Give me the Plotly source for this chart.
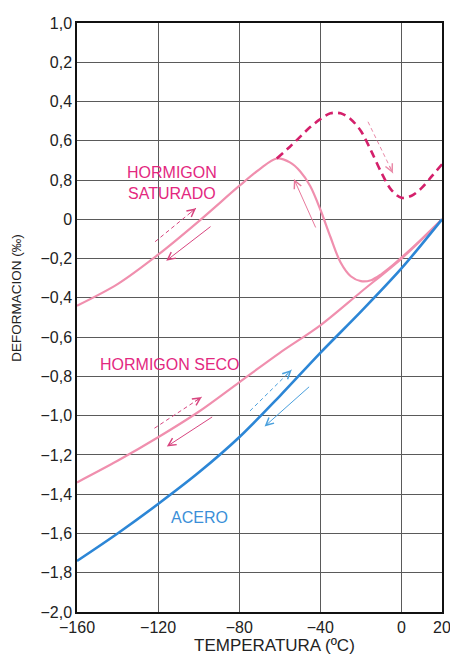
import plotly.graph_objects as go

# ---------------- data ----------------
temp_acero = [-160, -140, -120, -100, -80, -60, -40, -20, 0, 20]
def_acero = [-1.74, -1.60, -1.45, -1.29, -1.11, -0.90, -0.68, -0.47, -0.25, 0.0]

temp_seco = [-160, -140, -120, -100, -80, -60, -40, -20, 0, 20]
def_seco = [-1.34, -1.23, -1.11, -0.98, -0.83, -0.68, -0.54, -0.37, -0.20, 0.0]

temp_saturado = [-160, -140, -120, -100, -80, -70, -61.5, -55, -50, -45, -40, -35,
                 -30, -25, -20, -15, -10, -5, 0, 10, 20]
def_saturado = [-0.44, -0.33, -0.18, -0.01, 0.17, 0.255, 0.31, 0.29, 0.245, 0.17, 0.05, -0.09,
                -0.22, -0.29, -0.315, -0.31, -0.28, -0.24, -0.195, -0.10, 0.0]

temp_saturado_b = [-61.5, -55, -50, -45, -40, -35, -30, -25, -20, -15, -10, -5, 0, 5, 10, 15, 20]
def_saturado_b = [0.31, 0.37, 0.42, 0.47, 0.51, 0.54, 0.54, 0.51, 0.45, 0.35, 0.24, 0.15, 0.11,
                  0.12, 0.16, 0.22, 0.28]

x_ticks = [-160, -120, -80, -40, 0, 20]
x_ticktext = ["\u2212160", "\u2212120", "\u221280", "\u221240", "0", "20"]
y_ticks = [1.0, 0.8, 0.6, 0.4, 0.2, 0.0, -0.2, -0.4, -0.6, -0.8, -1.0,
           -1.2, -1.4, -1.6, -1.8, -2.0]
y_ticktext = ["1,0", "0,2", "0,4", "0,6", "0,8", "0", "\u22120,2", "\u22120,4", "\u22120,6",
              "\u22120,8", "\u22121,0", "\u22121,2", "\u22121,4", "\u22121,6", "\u22121,8", "\u22122,0"]

# arrows: tail x, tail y, head x, head y
arrow_tail_x = [-121.5, -93.9, -42.2, -16.5, -121.8, -93.1, -74.7, -45.3]
arrow_tail_y = [-0.114, -0.035, -0.044, 0.497, -1.064, -1.005, -0.976, -0.851]
arrow_head_x = [-101.3, -116.0, -53.0, -4.2, -98.5, -115.7, -54.2, -67.5]
arrow_head_y = [0.057, -0.211, 0.205, 0.235, -0.905, -1.157, -0.767, -1.055]
arrow_dashed = [True, False, False, True, True, False, True, False]
arrow_color = ["#d8457f", "#d8457f", "#e8799c", "#e98aa8", "#d8457f", "#d8457f", "#4aa0dd", "#4aa0dd"]

labels = ["HORMIGON<br>SATURADO", "HORMIGON SECO", "ACERO"]
label_x = [-113.1, -113.9, -99.6]
label_y = [0.185, -0.740, -1.519]
label_color = ["#e3287f", "#e3287f", "#3b8fd8"]

FONT = "Liberation Sans, Arial, sans-serif"
PINK = "#f08fae"
MAGENTA = "#d4206b"
BLUE = "#2c86d6"

fig = go.Figure()

fig.add_trace(go.Scatter(x=temp_saturado, y=def_saturado, mode="lines",
                         line=dict(color=PINK, width=2.2, shape="spline", smoothing=0.9),
                         hoverinfo="skip", showlegend=False))
fig.add_trace(go.Scatter(x=temp_saturado_b, y=def_saturado_b, mode="lines",
                         line=dict(color=MAGENTA, width=2.6, dash="8px,5px", shape="spline", smoothing=0.9),
                         hoverinfo="skip", showlegend=False))
fig.add_trace(go.Scatter(x=temp_seco, y=def_seco, mode="lines",
                         line=dict(color=PINK, width=2.2, shape="spline", smoothing=0.9),
                         hoverinfo="skip", showlegend=False))
fig.add_trace(go.Scatter(x=temp_acero, y=def_acero, mode="lines",
                         line=dict(color=BLUE, width=2.6, shape="spline", smoothing=0.9),
                         hoverinfo="skip", showlegend=False))

annotations = []
shapes = []
for tx, ty, hx, hy, dashed, col in zip(arrow_tail_x, arrow_tail_y, arrow_head_x,
                                       arrow_head_y, arrow_dashed, arrow_color):
    if dashed:
        shapes.append(dict(type="line", xref="x", yref="y", x0=tx, y0=ty, x1=hx, y1=hy,
                           line=dict(color=col, width=1, dash="4px,3px"), layer="above"))
        sx = hx - 0.15 * (hx - tx)
        sy = hy - 0.15 * (hy - ty)
    else:
        sx, sy = tx, ty
    annotations.append(dict(x=hx, y=hy, ax=sx, ay=sy, xref="x", yref="y", axref="x", ayref="y",
                            text="", showarrow=True, arrowhead=5, arrowsize=1.5,
                            arrowwidth=1, arrowcolor=col, font=dict(size=1), borderpad=0))

for t, lx, ly, c in zip(labels, label_x, label_y, label_color):
    annotations.append(dict(x=lx, y=ly, xref="x", yref="y", text=t, showarrow=False,
                            font=dict(family=FONT, size=16, color=c), align="center"))

annotations.append(dict(x=0.541, y=-0.057, xref="paper", yref="paper", text="TEMPERATURA (ºC)",
                        showarrow=False, xanchor="center", yanchor="middle",
                        font=dict(family=FONT, size=17, color="#222")))
annotations.append(dict(x=-0.168, y=0.533, xref="paper", yref="paper", text="DEFORMACION (‰)",
                        showarrow=False, xanchor="center", yanchor="middle", textangle=-90,
                        borderpad=0, font=dict(family=FONT, size=13.5, color="#222")))

# page body has an 8px margin: size the figure to fit inside the 458x654 window
fig.update_layout(
    width=450, height=646,
    margin=dict(l=69, r=9, t=7, b=42),
    paper_bgcolor="white", plot_bgcolor="white",
    annotations=annotations, shapes=shapes,
    font=dict(family=FONT, size=16, color="#222"),
    xaxis=dict(range=[-160, 20], tickvals=x_ticks, ticktext=x_ticktext,
               showgrid=True, gridcolor="#5a5a5a", gridwidth=1,
               showline=True, linecolor="#111", linewidth=1.5, mirror=True,
               zeroline=False, ticks="", tickfont=dict(size=16, color="#222")),
    yaxis=dict(range=[-2.0, 1.0], tickvals=y_ticks, ticktext=y_ticktext,
               showgrid=True, gridcolor="#5a5a5a", gridwidth=1,
               showline=True, linecolor="#111", linewidth=1.5, mirror=True,
               zeroline=False, ticks="", tickfont=dict(size=16, color="#222")),
)

fig.write_html("out.html")
